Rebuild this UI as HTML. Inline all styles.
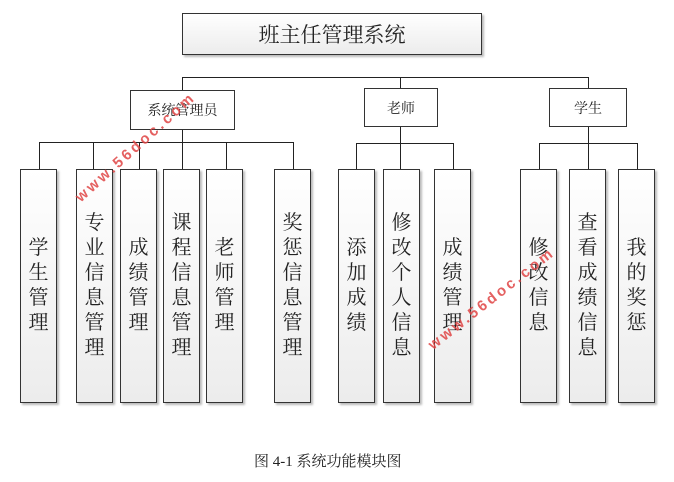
<!DOCTYPE html>
<html><head><meta charset="utf-8"><style>
body{margin:0;width:674px;height:482px;background:#fff;position:relative;overflow:hidden;font-family:"Liberation Serif","Noto Serif CJK SC","Noto Sans CJK SC",serif;}
.b{position:absolute;box-sizing:border-box;border:1px solid #333;background:linear-gradient(#fff,#ececec);box-shadow:2px 2px 2px #bbb;display:flex;align-items:center;justify-content:center;color:#222;}
.v{width:37px;top:169px;height:234px;font-size:20px;line-height:25px;text-align:center;}
.v span{display:block;width:20px;word-break:break-all;}
.l{position:absolute;background:#222;}
.h{height:1px}.w{width:1px}
.wm{position:absolute;color:#e04545;font:bold 15px "Liberation Sans",sans-serif;letter-spacing:3px;opacity:.85;white-space:nowrap;}
</style></head><body>
<div class="b" style="left:182px;top:13px;width:300px;height:42px;font-size:21px;">班主任管理系统</div>
<div class="l h" style="left:182px;top:77px;width:407px"></div>
<div class="l w" style="left:182px;top:77px;height:13px"></div>
<div class="l w" style="left:400px;top:77px;height:11px"></div>
<div class="l w" style="left:588px;top:77px;height:11px"></div>
<div class="b" style="left:130px;top:90px;width:105px;height:40px;font-size:14px;background:#fff;box-shadow:none">系统管理员</div>
<div class="b" style="left:364px;top:88px;width:74px;height:39px;font-size:14px;background:#fff;box-shadow:none">老师</div>
<div class="b" style="left:549px;top:88px;width:78px;height:39px;font-size:14px;background:#fff;box-shadow:none">学生</div>
<div class="l w" style="left:182px;top:130px;height:12px"></div>
<div class="l h" style="left:39px;top:142px;width:255px"></div>
<div class="l w" style="left:39px;top:142px;height:27px"></div>
<div class="l w" style="left:93px;top:142px;height:27px"></div>
<div class="l w" style="left:139px;top:142px;height:27px"></div>
<div class="l w" style="left:182px;top:142px;height:27px"></div>
<div class="l w" style="left:226px;top:142px;height:27px"></div>
<div class="l w" style="left:293px;top:142px;height:27px"></div>
<div class="l w" style="left:400px;top:127px;height:42px"></div>
<div class="l h" style="left:356px;top:143px;width:98px"></div>
<div class="l w" style="left:356px;top:143px;height:26px"></div>
<div class="l w" style="left:453px;top:143px;height:26px"></div>
<div class="l w" style="left:588px;top:127px;height:42px"></div>
<div class="l h" style="left:539px;top:143px;width:99px"></div>
<div class="l w" style="left:539px;top:143px;height:26px"></div>
<div class="l w" style="left:637px;top:143px;height:26px"></div>
<div class="b v" style="left:20px"><span>学生管理</span></div>
<div class="b v" style="left:76px"><span>专业信息管理</span></div>
<div class="b v" style="left:120px"><span>成绩管理</span></div>
<div class="b v" style="left:163px"><span>课程信息管理</span></div>
<div class="b v" style="left:206px"><span>老师管理</span></div>
<div class="b v" style="left:274px"><span>奖惩信息管理</span></div>
<div class="b v" style="left:338px"><span>添加成绩</span></div>
<div class="b v" style="left:383px"><span>修改个人信息</span></div>
<div class="b v" style="left:434px"><span>成绩管理</span></div>
<div class="b v" style="left:520px"><span>修改信息</span></div>
<div class="b v" style="left:569px"><span>查看成绩信息</span></div>
<div class="b v" style="left:618px"><span>我的奖惩</span></div>
<div class="wm" style="left:72px;top:193px;transform:rotate(-42deg);transform-origin:left top">www.56doc.com</div>
<div class="wm" style="left:425px;top:340px;transform:rotate(-38deg);transform-origin:left top">www.56doc.com</div>
<div style="position:absolute;left:254px;top:450px;width:180px;font-size:15px;color:#222;white-space:nowrap">图 4-1 系统功能模块图</div>
</body></html>
